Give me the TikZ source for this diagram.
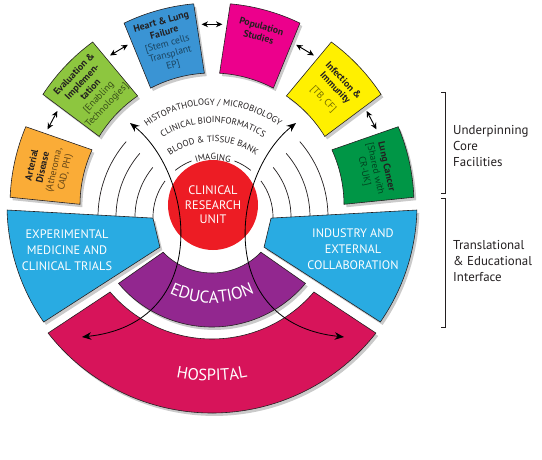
\documentclass[tikz,border=0pt]{standalone}
\usepackage{fontspec}
\setmainfont{PT Sans}
\usepackage{tikz}
\usetikzlibrary{arrows.meta,shadows,decorations.text}

\definecolor{hospcol}{RGB}{215,20,90}
\definecolor{educol}{RGB}{146,39,143}
\definecolor{bandblue}{RGB}{41,171,226}
\definecolor{artcol}{RGB}{250,172,55}
\definecolor{evalcol}{RGB}{141,198,63}
\definecolor{heartcol}{RGB}{58,148,212}
\definecolor{popcol}{RGB}{236,0,140}
\definecolor{infcol}{RGB}{255,240,0}
\definecolor{lungcol}{RGB}{0,150,70}
\definecolor{crured}{RGB}{237,28,36}
\definecolor{inkgrey}{RGB}{35,31,32}

\pgfdeclareradialshading{cruglow}{\pgfpoint{0bp}{0bp}}{color(0bp)=(crured); color(28bp)=(crured); color(50bp)=(white)}

% one curved tile of the outer ring: angle, fill
\newcommand{\curvedtile}[2]{%
  \filldraw[tile, fill=#2] ({#1+10.3}:202) arc[start angle={#1+10.3}, end angle={#1-10.3}, radius=202]
    -- ({#1-12.2}:132) arc[start angle={#1-12.2}, end angle={#1+12.2}, radius=132] -- cycle;}

\begin{document}
\begin{tikzpicture}[x=0.3mm, y=0.3mm,
    font=\fontsize{8.3}{9.6}\selectfont,
    tile/.style={draw=inkgrey, line width=0.5pt,
        drop shadow={shadow xshift=2pt, shadow yshift=-2.5pt, opacity=0.35, fill=black!60}},
    tiletext/.style={align=center, inner sep=0pt, text=inkgrey},
    ring/.style={draw=inkgrey, line width=0.6pt},
    link/.style={<->, >={Stealth[length=5.5pt,width=5pt]}, line width=0.8pt},
    flow/.style={<->, >={Stealth[length=8pt,width=6.5pt]}, line width=0.7pt},
    bandtext/.style={text=white, align=center, font=\fontsize{10.5}{13.5}\selectfont},
    side/.style={align=left, anchor=west, inner sep=0pt, text=inkgrey, font=\fontsize{11}{13.6}\selectfont},
    brk/.style={draw=inkgrey, line width=0.6pt}
]
    \useasboundingbox (-212,-254) rectangle (330,205);

    \node[circle, minimum size=27mm, inner sep=0pt, shade, shading=cruglow, text=white, align=center,
        font=\fontsize{10.5}{12.5}\selectfont] (cru) at (1,0) {CLINICAL\\RESEARCH\\UNIT};

    % core facility rings
    \begin{scope}[shift={(1,-12)}]
        \draw[ring] (181:115) arc[start angle=181, end angle=139, radius=115];
        \draw[ring] (181:97) arc[start angle=181, end angle=139, radius=97];
        \draw[ring] (181:78) arc[start angle=181, end angle=140.5, radius=78];
        \draw[ring] (181:60) arc[start angle=181, end angle=143, radius=60];
        \draw[ring] (129:60) arc[start angle=129, end angle=111, radius=60];
        \draw[ring] (69:60) arc[start angle=69, end angle=51, radius=60];
        \draw[ring] (37:60) arc[start angle=37, end angle=-1, radius=60];
        \draw[ring] (39.5:78) arc[start angle=39.5, end angle=-1, radius=78];
        \draw[ring] (41:97) arc[start angle=41, end angle=-1, radius=97];
        \draw[ring] (41:115) arc[start angle=41, end angle=-1, radius=115];

        \path[decorate, decoration={text along path, text align=center,
            text={|\fontsize{7.6}{8}\selectfont\color{inkgrey}|HISTOPATHOLOGY / MICROBIOLOGY}}]
            (150:112) arc[start angle=150, end angle=30, radius=112];
        \path[decorate, decoration={text along path, text align=center,
            text={|\fontsize{7.6}{8}\selectfont\color{inkgrey}|CLINICAL BIOINFORMATICS}}]
            (150:94) arc[start angle=150, end angle=30, radius=94];
        \path[decorate, decoration={text along path, text align=center,
            text={|\fontsize{7.6}{8}\selectfont\color{inkgrey}|BLOOD {\&} TISSUE BANK}}]
            (150:75) arc[start angle=150, end angle=30, radius=75];
        \path[decorate, decoration={text along path, text align=center,
            text={|\fontsize{7.6}{8}\selectfont\color{inkgrey}|IMAGING}}]
            (150:57) arc[start angle=150, end angle=30, radius=57];
    \end{scope}

    % translational and educational interface
    \filldraw[tile, fill=hospcol] (218:208) arc[start angle=218, end angle=322, radius=208]
        -- (319.5:134) arc[start angle=319.5, end angle=220.5, radius=134] -- cycle;
    \filldraw[tile, fill=educol] (220:122) arc[start angle=220, end angle=320, radius=122]
        -- (316:68) arc[start angle=316, end angle=224, radius=68] -- cycle;
    \filldraw[tile, fill=bandblue] (181.4:205) arc[start angle=181.4, end angle=214.8, radius=205]
        -- (219:67) -- (192.5:60.5) -- cycle;
    \filldraw[tile, fill=bandblue] (-1.4:205) arc[start angle=-1.4, end angle=-34.8, radius=205]
        -- (-39:67) -- (-12.5:60.5) -- cycle;

    \path[decorate, decoration={text along path, text align=center,
        text={|\fontsize{14.5}{16}\selectfont\color{white}|EDUCATION}}]
        (228:98) arc[start angle=228, end angle=312, radius=98];
    \path[decorate, decoration={text along path, text align=center,
        text={|\fontsize{14}{16}\selectfont\color{white}|HOSPITAL}}]
        (235:176) arc[start angle=235, end angle=305, radius=176];

    \node[bandtext] (expmed) at (-145,-45) {EXPERIMENTAL\\MEDICINE AND\\CLINICAL TRIALS};
    \node[bandtext] (industry) at (141,-44) {INDUSTRY AND\\EXTERNAL\\COLLABORATION};

    % underpinning tiles
    \curvedtile{167.5}{artcol}
    \curvedtile{136.5}{evalcol}
    \curvedtile{105.5}{heartcol}
    \curvedtile{74.5}{popcol}
    \curvedtile{43.5}{infcol}
    \curvedtile{12.5}{lungcol}

    \node[tiletext, rotate=77.5] (art) at (167.5:167)
        {\textbf{Arterial}\\\textbf{Disease}\\\textcolor{artcol!40!black}{(Atheroma,}\\\textcolor{artcol!40!black}{CAD, PH)}};
    \node[tiletext, rotate=46.5] (eval) at (136.5:167)
        {\textbf{Evaluation \&}\\\textbf{Implemen-}\\\textbf{tation}\\\textcolor{evalcol!40!black}{[Enabling}\\\textcolor{evalcol!40!black}{Technologies]}};
    \node[tiletext, rotate=15.5] (heart) at (105.5:167)
        {\textbf{Heart \& Lung}\\\textbf{Failure}\\\textcolor{heartcol!45!black}{[Stem cells}\\\textcolor{heartcol!45!black}{Transplant}\\\textcolor{heartcol!45!black}{EP]}};
    \node[tiletext, rotate=-15.5] (pop) at (74.5:180) {\textbf{Population}\\\textbf{Studies}};
    \node[tiletext, rotate=-46.5] (inf) at (43.5:167)
        {\textbf{Infection \&}\\\textbf{Immunity}\\[4pt]\textcolor{infcol!45!black}{[TB, CF]}};
    \node[tiletext, rotate=-77.5] (lung) at (12.5:167)
        {\textbf{Lung Cancer}\\\textcolor{lungcol!45!black}{[Shared with}\\\textcolor{lungcol!45!black}{CR-UK]}};

    \coordinate (art-e) at (155.3:181);  \coordinate (eval-w) at (148.7:181);
    \coordinate (eval-e) at (124.3:181); \coordinate (heart-w) at (117.7:181);
    \coordinate (heart-e) at (93.3:181); \coordinate (pop-w) at (86.7:181);
    \coordinate (pop-e) at (62.3:181);   \coordinate (inf-w) at (55.7:181);
    \coordinate (inf-e) at (31.3:181);   \coordinate (lung-w) at (24.7:181);
    \draw[link] (art-e) -- (eval-w);
    \draw[link] (eval-e) -- (heart-w);
    \draw[link] (heart-e) -- (pop-w);
    \draw[link] (pop-e) -- (inf-w);
    \draw[link] (inf-e) -- (lung-w);

    % flows from the hospital to the core
    \coordinate (topL) at (-82,82);  \coordinate (hospL) at (-130,-132);
    \coordinate (topR) at (84,82);   \coordinate (hospR) at (132,-132);
    \draw[flow] (topL) .. controls (-17,30) and (0,-118) .. (hospL);
    \draw[flow] (topR) .. controls (19,30) and (2,-118) .. (hospR);

    % brackets
    \draw[brk] (229,113) -- (233,113) -- (233,12) -- (229,12);
    \draw[brk] (229,7) -- (233,7) -- (233,-122) -- (229,-122);
    \node[side] (ucf) at (241,59) {Underpinning\\Core\\Facilities};
    \node[side] (tei) at (241,-56) {Translational\\\& Educational\\Interface};
\end{tikzpicture}
\end{document}
